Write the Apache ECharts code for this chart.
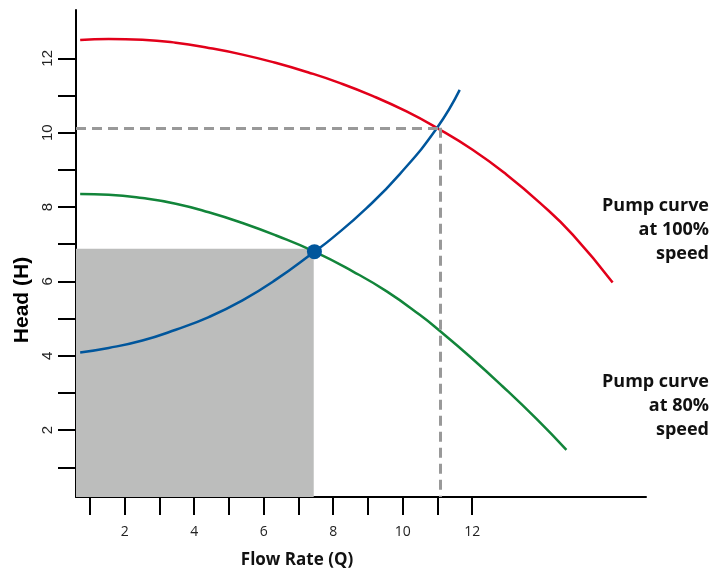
<!DOCTYPE html>
<html>
<head>
<meta charset="utf-8">
<script src="https://cdn.jsdelivr.net/npm/echarts@6/dist/echarts.min.js"></script>
<style>
  html, body { margin: 0; padding: 0; background: #fff; }
  #chart { width: 712px; height: 572px; }
</style>
</head>
<body>
<div id="chart"></div>
<script>
// values (flow, head)
const flow100 = [0.72, 1.54, 2.51, 3.47, 4.42, 5.39, 6.34, 7.29, 8.18, 9.13, 10.11, 10.98, 12.01, 12.99, 13.94, 14.89, 16.04];
const head100 = [12.49, 12.52, 12.50, 12.42, 12.28, 12.10, 11.88, 11.62, 11.34, 10.99, 10.57, 10.13, 9.54, 8.87, 8.12, 7.26, 5.97];

const flow80 = [0.72, 1.54, 2.51, 3.47, 4.42, 5.39, 6.34, 7.46, 8.56, 9.54, 10.49, 11.09, 11.93, 12.87, 13.85, 14.71];
const head80 = [8.35, 8.33, 8.24, 8.09, 7.86, 7.57, 7.24, 6.80, 6.27, 5.73, 5.10, 4.65, 3.98, 3.18, 2.30, 1.47];

const flowSys = [0.72, 1.54, 2.51, 3.47, 4.42, 5.39, 6.34, 7.46, 7.98, 8.96, 9.91, 10.98, 11.64];
const headSys = [4.09, 4.21, 4.41, 4.70, 5.04, 5.49, 6.04, 6.80, 7.17, 7.97, 8.88, 10.12, 11.15];

const operatingPoint = [7.46, 6.80];
const shadedCorner = [7.44, 6.88];
const dutyPoint = [11.09, 10.13];

const xTicks = [1, 2, 3, 4, 5, 6, 7, 8, 9, 10, 11, 12];
const xLabels = [2, 4, 6, 8, 10, 12];
const yTicks = [1, 2, 3, 4, 5, 6, 7, 8, 9, 10, 11, 12];
const yLabels = [2, 4, 6, 8, 10, 12];

const X_MIN = 0.6, X_MAX = 17, Y_MIN = 0.2, Y_MAX = 13.3;

const zip = (xs, ys) => xs.map((x, i) => [x, ys[i]]);

const RED = '#e2001a', GREEN = '#12853a', BLUE = '#00569c';

const chart = echarts.init(document.getElementById('chart'));

const curve = (color, xs, ys, z) => ({
    type: 'line',
    smooth: 0.5,
    showSymbol: false,
    z: z,
    lineStyle: { color: color, width: 2.5 },
    data: zip(xs, ys)
});

chart.setOption({
    animation: false,
    grid: { left: 76, right: 66, top: 10, bottom: 75 },
    xAxis: {
        type: 'value',
        min: X_MIN,
        max: X_MAX,
        splitLine: { show: false },
        axisLine: { lineStyle: { color: '#000', width: 2 } },
        axisTick: { customValues: xTicks, length: 18, lineStyle: { color: '#000', width: 2 } },
        axisLabel: { customValues: xLabels, margin: 28, color: '#222', fontSize: 14, fontFamily: 'Open Sans' }
    },
    yAxis: {
        type: 'value',
        min: Y_MIN,
        max: Y_MAX,
        splitLine: { show: false },
        axisLine: { lineStyle: { color: '#000', width: 2 } },
        axisTick: { customValues: yTicks, length: 18, lineStyle: { color: '#000', width: 2 } },
        axisLabel: { customValues: yLabels, rotate: 90, margin: 21, color: '#222', fontSize: 15, fontFamily: 'Liberation Sans' }
    },
    series: [
        {
            type: 'line',
            data: [],
            z: 1,
            markArea: {
                silent: true,
                itemStyle: { color: '#bcbdbc' },
                data: [[{ coord: [X_MIN, Y_MIN] }, { coord: shadedCorner }]]
            },
            markLine: {
                silent: true,
                symbol: 'none',
                label: { show: false },
                lineStyle: { color: '#999', width: 3, type: [10, 6] },
                data: [
                    [{ coord: [X_MIN, dutyPoint[1]] }, { coord: dutyPoint }],
                    [{ coord: dutyPoint }, { coord: [dutyPoint[0], Y_MIN] }]
                ]
            }
        },
        curve(RED, flow100, head100, 3),
        curve(GREEN, flow80, head80, 3),
        curve(BLUE, flowSys, headSys, 4),
        {
            type: 'scatter',
            symbolSize: 15,
            z: 5,
            itemStyle: { color: BLUE, opacity: 1 },
            data: [operatingPoint]
        }
    ],
    graphic: [
        {
            type: 'text', x: 22, y: 300, rotation: Math.PI / 2,
            style: { text: 'Head (H)', font: 'bold 21px "Liberation Sans"', fill: '#000', align: 'center', verticalAlign: 'middle' }
        },
        {
            type: 'text', x: 297, y: 560,
            style: { text: 'Flow Rate (Q)', font: 'bold 17px "Open Sans"', fill: '#111', align: 'center', verticalAlign: 'middle' }
        },
        {
            type: 'text', x: 709, y: 194,
            style: { text: 'Pump curve\nat 100%\nspeed', font: 'bold 18px "Open Sans"', lineHeight: 24, fill: '#111', align: 'right', verticalAlign: 'top' }
        },
        {
            type: 'text', x: 709, y: 370,
            style: { text: 'Pump curve\nat 80%\nspeed', font: 'bold 18px "Open Sans"', lineHeight: 24, fill: '#111', align: 'right', verticalAlign: 'top' }
        }
    ]
});
</script>
</body>
</html>
